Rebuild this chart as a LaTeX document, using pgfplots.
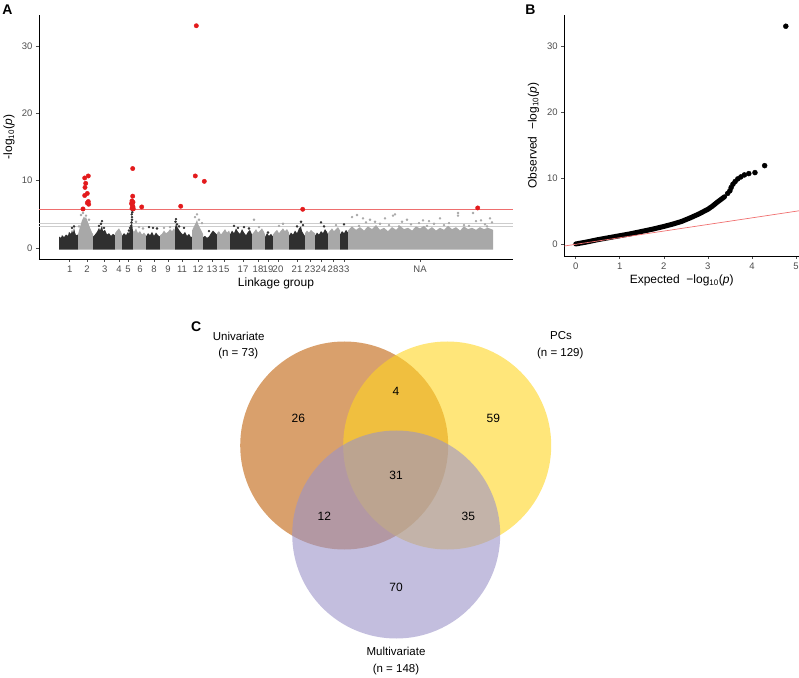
\documentclass[border=0pt]{standalone}
\usepackage{fontspec}
\setmainfont{Liberation Sans}
\usepackage{pgfplots}
\pgfplotsset{compat=1.18}

\definecolor{dk}{HTML}{303030}
\definecolor{lg}{HTML}{A8A8A8}
\definecolor{hit}{HTML}{E31A1C}
\definecolor{threshred}{RGB}{238,110,110}
\definecolor{threshgrey}{RGB}{205,205,205}
\definecolor{tk}{HTML}{4D4D4D}
\definecolor{qq}{HTML}{F07070}
\definecolor{vorange}{RGB}{192,97,10}
\definecolor{vyellow}{RGB}{255,213,33}
\definecolor{vpurple}{RGB}{155,147,200}

\pgfplotsset{
  gg/.style={
    scale only axis, anchor=south west, clip=false,
    axis x line=bottom, axis y line=left,
    axis line style={-, black, line width=0.8pt},
    tick align=outside, major tick length=3pt,
    tick style={color=tk, line width=0.6pt},
    ticklabel style={font=\fontsize{9.5}{10}\selectfont, text=tk},
    /pgf/number format/assume math mode=true,
  },
  blk/.style={draw=none, fill=#1},
  dots/.style={only marks, mark=*, mark size=1pt, color=#1},
  venn/.style={only marks, mark=*, mark size=104pt,
    mark options={draw opacity=0, fill=#1, fill opacity=0.6}},
}

\begin{document}
\begin{tikzpicture}
\path[use as bounding box] (0,0) rectangle (799pt,677pt);

% ---------- A: Manhattan plot ----------
\begin{axis}[gg,
  at={(39pt,418pt)}, width=474pt, height=244pt,
  xmin=0, xmax=474, ymin=-1.63, ymax=34.6,
  ytick={0,10,20,30},
  xtick={30.7,48,65.7,80,89,101,115,129,143,159,173,185,204,219,229,239,258,271,282,294,305,381},
  xticklabels={1,2,3,4,5,6,8,9,11,12,13,15,17,18,19,20,21,23,24,28,33,NA},
  every axis x label/.style={at={(axis description cs:0.5,-0.1135)}, anchor=base, font=\fontsize{12}{14}\selectfont},
  every axis y label/.style={at={(axis description cs:-0.063,0.5)}, rotate=90, anchor=center, font=\fontsize{12}{14}\selectfont},
  xlabel={Linkage group},
  ylabel={-log\textsubscript{10}(\textit{p})},
]
% significance thresholds, as thin filled bands (behind the SNPs)
\addplot[blk=threshgrey] coordinates {(0,3.63)(474,3.63)(474,3.77)(0,3.77)};
\addplot[blk=threshgrey] coordinates {(0,3.13)(474,3.13)(474,3.27)(0,3.27)};
\addplot[blk=threshred] coordinates {(0,5.59)(474,5.59)(474,5.81)(0,5.81)};

% dense SNP clouds per linkage group
\addplot[blk=dk] coordinates {(20,-0.25)(20,1.7)(22,1.5)(23,1.9)(25,1.6)(27,2.0)(29,1.8)(30,2.4)(32,2.1)(33,2.7)(34,2.2)(35,3.0)(36,2.3)(37,1.9)(39,2.0)(39,-0.25)};
\addplot[blk=lg] coordinates {(39,-0.25)(39,2.0)(40,2.6)(41,3.1)(42,3.6)(43,4.1)(44,4.4)(45,4.7)(46,4.4)(47,4.6)(48,4.2)(49,3.8)(50,3.4)(51,3.0)(52,2.7)(53,2.3)(54,2.1)(54,-0.25)};
\addplot[blk=dk] coordinates {(54,-0.25)(54,1.7)(56,2.0)(58,2.4)(60,3.0)(61,2.6)(63,3.3)(64,2.5)(66,2.7)(68,2.0)(70,2.2)(72,1.8)(74,2.1)(76,1.9)(76,-0.25)};
\addplot[blk=lg] coordinates {(76,-0.25)(76,2.2)(78,2.6)(80,2.9)(82,2.4)(83,2.0)(83,-0.25)};
\addplot[blk=dk] coordinates {(83,-0.25)(83,1.8)(85,2.2)(87,1.9)(89,2.4)(90,2.1)(91,2.7)(92,3.4)(93,3.8)(94,2.4)(94,-0.25)};
\addplot[blk=lg] coordinates {(94,-0.25)(94,2.6)(95,2.4)(97,2.9)(99,2.2)(101,2.5)(103,2.0)(105,2.3)(107,1.9)(107,-0.25)};
\addplot[blk=dk] coordinates {(107,-0.25)(107,1.7)(109,2.2)(111,1.9)(113,2.4)(115,1.8)(117,2.3)(119,1.9)(121,1.7)(121,-0.25)};
\addplot[blk=lg] coordinates {(121,-0.25)(121,1.9)(123,2.1)(125,2.6)(127,2.2)(129,2.4)(131,2.8)(133,2.5)(135,2.9)(136,2.6)(136,-0.25)};
\addplot[blk=dk] coordinates {(136,-0.25)(136,3.0)(137,3.6)(138,3.2)(140,2.7)(142,2.3)(144,2.0)(146,2.4)(148,1.8)(150,2.1)(152,1.6)(153,1.7)(153,-0.25)};
\addplot[blk=lg] coordinates {(153,-0.25)(153,2.6)(155,3.2)(157,3.8)(158,4.2)(159,3.6)(161,3.0)(163,2.4)(164,2.1)(164,-0.25)};
\addplot[blk=dk] coordinates {(164,-0.25)(164,1.6)(166,1.8)(168,1.5)(170,1.7)(172,2.2)(174,2.6)(176,2.3)(178,2.0)(178,-0.25)};
\addplot[blk=lg] coordinates {(178,-0.25)(178,2.2)(180,2.5)(182,2.0)(184,2.4)(186,2.8)(188,2.3)(190,2.6)(191,2.2)(191,-0.25)};
\addplot[blk=dk] coordinates {(191,-0.25)(191,2.0)(193,2.6)(195,2.2)(197,2.9)(199,2.4)(201,2.1)(203,2.8)(205,2.3)(207,1.9)(209,2.4)(211,2.7)(213,2.0)(213,-0.25)};
\addplot[blk=lg] coordinates {(213,-0.25)(213,2.0)(215,2.4)(217,2.8)(219,2.3)(221,2.6)(223,2.9)(225,2.4)(226,2.0)(226,-0.25)};
\addplot[blk=dk] coordinates {(226,-0.25)(226,1.6)(228,2.2)(230,1.8)(232,2.1)(234,1.7)(234,-0.25)};
\addplot[blk=lg] coordinates {(234,-0.25)(234,2.0)(236,2.4)(238,2.7)(240,2.2)(242,2.6)(244,2.9)(246,2.5)(248,2.8)(250,2.3)(250,-0.25)};
\addplot[blk=dk] coordinates {(250,-0.25)(250,1.8)(252,2.3)(254,2.0)(256,2.6)(258,2.2)(260,2.9)(262,3.2)(263,2.5)(265,2.0)(266,1.8)(266,-0.25)};
\addplot[blk=lg] coordinates {(266,-0.25)(266,2.2)(268,2.6)(270,2.3)(272,2.7)(274,2.4)(276,2.2)(276,-0.25)};
\addplot[blk=dk] coordinates {(276,-0.25)(276,1.8)(278,2.3)(280,2.0)(282,2.5)(284,2.2)(286,2.8)(288,2.4)(289,2.0)(289,-0.25)};
\addplot[blk=lg] coordinates {(289,-0.25)(289,2.2)(291,2.6)(293,2.9)(295,2.5)(297,2.8)(299,3.1)(301,2.6)(301,-0.25)};
\addplot[blk=dk] coordinates {(301,-0.25)(301,2.0)(303,2.5)(305,2.2)(307,2.7)(309,2.3)(309,-0.25)};
\addplot[blk=lg] coordinates {(309,-0.25)(309,2.6)(313,3.2)(317,2.7)(321,3.1)(325,2.6)(329,3.2)(333,2.8)(337,3.4)(341,2.7)(345,3.0)(349,2.5)(353,3.1)(357,2.7)(361,3.3)(365,2.8)(369,3.0)(373,2.6)(377,3.2)(381,2.9)(385,3.3)(389,2.7)(393,3.1)(397,2.6)(401,3.0)(405,2.7)(409,3.3)(413,2.8)(417,3.1)(421,2.6)(425,3.2)(429,2.8)(433,3.0)(437,2.7)(441,3.1)(445,2.8)(449,3.0)(454,2.7)(454,-0.25)};

% scattered SNPs above the clouds
\addplot[dots=dk] coordinates {(33,3.0)(35,3.2)(60,3.3)(62,3.6)(63,4.0)(65,3.0)
  (90,2.6)(91,3.0)(92,3.3)(92.5,3.8)(93,4.2)(93,4.6)(92.7,5.0)(93.3,5.3)(93,5.6)
  (110,3.1)(114,3.0)(118,2.9)(136.5,3.9)(137,4.3)(138,3.5)(140,3.2)(145,3.0)
  (170,2.5)(195,3.3)(199,3.0)(205,3.1)(210,2.9)(229,2.3)(258,3.2)(262,3.9)(264,3.4)
  (282,3.8)(285,3.2)(305,3.5)};
\addplot[dots=lg] coordinates {(40,3.2)(42,4.9)(44,5.2)(47,4.8)(50,4.2)(97,3.9)(100,3.1)(104,2.9)
  (125,3.0)(131,3.1)(156,4.6)(158,5.0)(160,4.2)(163,3.7)(215,4.2)(220,3.1)(240,3.3)(244,3.6)(297,3.4)
  (313,4.6)(318,4.9)(324,4.4)(331,4.2)(336,3.9)(346,4.4)(354,4.8)(356,5.0)(363,3.9)(368,4.2)
  (384,4.1)(390,4.0)(401,4.4)(419,5.2)(419,4.8)(434,5.2)(437,4.0)(442,4.1)(451,4.4)(453,3.8)
  (327,3.8)(341,3.6)(372,3.5)(380,3.7)(395,3.6)(410,3.7)(425,3.4)(446,3.5)
  (320,3.3)(350,3.4)(360,3.2)(388,3.3)(405,3.4)(430,3.3)(448,3.2)};

% significant SNPs
\addplot[only marks, mark=*, mark size=2.2pt, color=hit] coordinates {
  (44,5.8)(45.7,10.4)(49.3,10.7)(46.7,9.6)(46,9.0)(48.3,8.1)(45.7,7.8)(49.3,6.9)(49.7,6.5)(48.3,6.7)
  (93.7,11.8)(93.7,7.7)(93,7.0)(94,6.8)(92.5,6.6)(93.5,6.3)(94,6.1)(93,5.9)(94.3,5.8)(102.7,6.1)
  (141.7,6.2)(157.3,33.0)(156.3,10.7)(165.3,9.9)(263.7,5.75)(438.7,5.95)};
\end{axis}

% ---------- B: QQ plot ----------
\begin{axis}[gg,
  at={(564.3pt,421pt)}, width=234.7pt, height=241pt,
  xmin=-0.26, xmax=5.07, ymin=-1.77, ymax=34.7,
  xtick={0,1,2,3,4,5}, ytick={0,10,20,30},
  every axis x label/.style={at={(axis description cs:0.5,-0.116)}, anchor=base, font=\fontsize{12}{14}\selectfont},
  every axis y label/.style={at={(axis description cs:-0.131,0.5)}, rotate=90, anchor=center, font=\fontsize{12}{14}\selectfont},
  xlabel={Expected\ \ −log\textsubscript{10}(\textit{p})},
  ylabel={Observed\ \ −log\textsubscript{10}(\textit{p})},
]
\addplot[black, line width=5pt, line cap=round, line join=round] coordinates {
  (0,0.05)(0.25,0.35)(0.5,0.7)(0.75,1.0)(1.0,1.3)(1.25,1.6)(1.5,1.95)(1.75,2.3)(2.0,2.7)
  (2.2,3.05)(2.4,3.45)(2.6,4.0)(2.8,4.6)(3.0,5.3)(3.1,5.75)(3.2,6.3)(3.3,6.8)(3.38,7.2)};
\addplot[only marks, mark=*, mark size=2.5pt, black] coordinates {
  (3.45,7.7)(3.5,8.1)(3.53,8.6)(3.57,9.1)(3.62,9.5)(3.68,9.9)(3.75,10.2)(3.83,10.5)
  (3.93,10.7)(4.07,10.85)(4.29,11.9)(4.77,33.0)};
\addplot[qq, line width=0.7pt] coordinates {(-0.26,-0.26)(5.07,5.07)};
\end{axis}

% ---------- C: Venn diagram ----------
\begin{axis}[at={(0pt,0pt)}, anchor=south west, scale only axis, width=799pt, height=677pt,
  xmin=0, xmax=799, ymin=0, ymax=677, hide axis, clip=false]
\addplot[venn=vorange] coordinates {(344.2,231.5)};
\addplot[venn=vyellow] coordinates {(447.2,231.5)};
\addplot[venn=vpurple] coordinates {(396.2,142.5)};
\addplot[only marks, mark options={draw=none, fill=none}, nodes near coords, point meta=explicit symbolic,
  nodes near coords style={anchor=center, font=\fontsize{12}{14}\selectfont, text=black}]
  table[meta=n] {
x y n
298.3 258.7 26
396 285.3 4
493.3 258.7 59
396 202 31
324.3 160.3 12
468.3 160.3 35
396 89.7 70
};
\node[font=\fontsize{11.5}{14}\selectfont] at (axis cs:238.7,341) {Univariate};
\node[font=\fontsize{11.5}{14}\selectfont] at (axis cs:238.3,323) {(n = 73)};
\node[font=\fontsize{11.5}{14}\selectfont] at (axis cs:561,341) {PCs};
\node[font=\fontsize{11.5}{14}\selectfont] at (axis cs:560.3,323) {(n = 129)};
\node[font=\fontsize{11.5}{14}\selectfont] at (axis cs:396,25.3) {Multivariate};
\node[font=\fontsize{11.5}{14}\selectfont] at (axis cs:396,7.7) {(n = 148)};
\end{axis}

\node[font=\fontsize{14}{14}\selectfont\bfseries] at (7.5pt,667pt) {A};
\node[font=\fontsize{14}{14}\selectfont\bfseries] at (530.5pt,667pt) {B};
\node[font=\fontsize{14}{14}\selectfont\bfseries] at (196.3pt,350.3pt) {C};
\end{tikzpicture}
\end{document}
